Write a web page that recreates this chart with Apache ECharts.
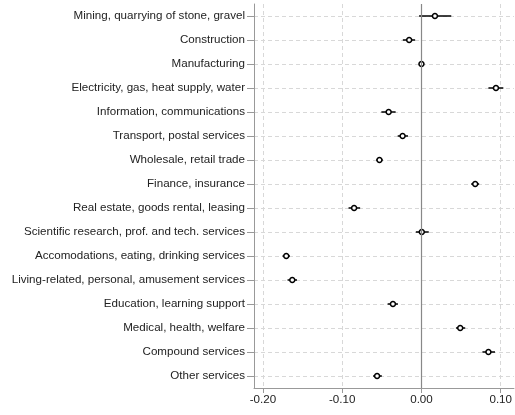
<!DOCTYPE html>
<html>
<head>
<meta charset="utf-8">
<script src="https://cdn.jsdelivr.net/npm/echarts@6/dist/echarts.min.js"></script>
<style>html,body{margin:0;padding:0;background:#fff;}#c{width:515px;height:415px;}</style>
</head>
<body>
<div id="c"></div>
<script>
var categories = [
  'Mining, quarrying of stone, gravel',
  'Construction',
  'Manufacturing',
  'Electricity, gas, heat supply, water',
  'Information, communications',
  'Transport, postal services',
  'Wholesale, retail trade',
  'Finance, insurance',
  'Real estate, goods rental, leasing',
  'Scientific research, prof. and tech. services',
  'Accomodations, eating, drinking services',
  'Living-related, personal, amusement services',
  'Education, learning support',
  'Medical, health, welfare',
  'Compound services',
  'Other services'
];
var estimates = [0.017, -0.0155, 0.000, 0.094, -0.0414, -0.0238, -0.053, 0.0678, -0.085, 0.0004, -0.1706, -0.163, -0.036, 0.0489, 0.0845, -0.056];
var lower = [-0.003, -0.0235, -0.001, 0.0845, -0.0506, -0.030, -0.057, 0.0627, -0.092, -0.0071, -0.1753, -0.169, -0.0427, 0.0435, 0.0769, -0.061];
var upper = [0.0376, -0.008, 0.001, 0.1033, -0.0326, -0.017, -0.049, 0.0728, -0.0774, 0.0092, -0.166, -0.157, -0.0297, 0.0552, 0.0928, -0.050];

var chart = echarts.init(document.getElementById('c'), null, {renderer: 'canvas'});
var ciData = categories.map(function (c, i) { return [lower[i], upper[i], c]; });
var ptData = categories.map(function (c, i) { return [estimates[i], c]; });
var font = 'Liberation Sans, Arial, sans-serif';

chart.setOption({
  animation: false,
  backgroundColor: '#fff',
  grid: {left: 254, right: 0, top: 4, bottom: 27, containLabel: false},
  xAxis: {
    type: 'value',
    min: -0.2113,
    max: 0.1167,
    splitNumber: 3,
    axisLine: {show: true, onZero: false, lineStyle: {color: '#999', width: 1}},
    axisTick: {show: true, length: 5, lineStyle: {color: '#999'}},
    axisLabel: {
      color: '#222', fontSize: 11.6, fontFamily: font, margin: 6,
      showMinLabel: false, showMaxLabel: false,
      formatter: function (v) { return v.toFixed(2); }
    },
    splitLine: {show: true, showMinLine: false, showMaxLine: false, lineStyle: {color: '#d8d8d8', type: [4, 3], width: 1}}
  },
  yAxis: {
    type: 'category',
    data: categories,
    inverse: true,
    axisLine: {show: true, onZero: false, lineStyle: {color: '#999', width: 1}},
    axisTick: {show: true, alignWithLabel: true, length: 7, lineStyle: {color: '#999'}},
    axisLabel: {color: '#222', fontSize: 11.6, fontFamily: font, margin: 9, interval: 0},
    splitLine: {show: true, alignWithLabel: true, interval: 0, lineStyle: {color: '#d8d8d8', type: [4, 3], width: 1}}
  },
  series: [
    {
      type: 'custom',
      data: ciData,
      encode: {x: [0, 1], y: 2},
      z: 3,
      renderItem: function (params, api) {
        var y = api.value(2);
        var p1 = api.coord([api.value(0), y]);
        var p2 = api.coord([api.value(1), y]);
        return {
          type: 'line',
          shape: {x1: p1[0], y1: p1[1], x2: p2[0], y2: p2[1]},
          style: {stroke: '#000', lineWidth: 1.5}
        };
      }
    },
    {
      type: 'scatter',
      data: ptData,
      z: 4,
      symbol: 'circle',
      symbolSize: 5,
      itemStyle: {color: '#fff', borderColor: '#000', borderWidth: 1.5, opacity: 1},
      markLine: {
        silent: true,
        symbol: 'none',
        label: {show: false},
        lineStyle: {color: '#888', type: 'solid', width: 1.2},
        data: [{xAxis: 0}]
      }
    }
  ]
});
</script>
</body>
</html>
